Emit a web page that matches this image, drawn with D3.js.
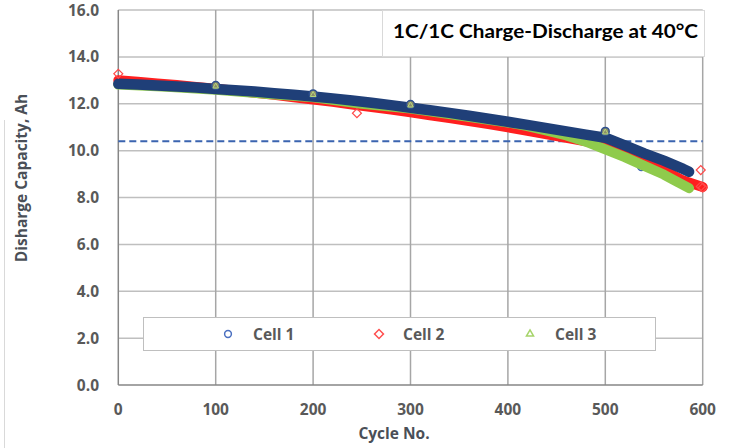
<!DOCTYPE html>
<html>
<head>
<meta charset="utf-8">
<script src="https://cdn.jsdelivr.net/npm/d3@7"></script>
<style>
  body { margin: 0; background: #fff; }
  text { font-family: "Open Sans", sans-serif; font-weight: bold; }
</style>
</head>
<body>
<svg id="chart"></svg>
<script>
// Cycle data (every 20 cycles)
const cell1Cycles = [0, 20, 40, 60, 80, 100, 120, 140, 160, 180, 200, 220, 240, 260, 280, 300, 320, 340, 360, 380, 400, 420, 440, 460, 480, 500, 520, 540, 560, 580, 586];
const cell1Values = [12.85, 12.82, 12.78, 12.74, 12.69, 12.63, 12.58, 12.52, 12.45, 12.38, 12.31, 12.23, 12.14, 12.04, 11.94, 11.83, 11.72, 11.61, 11.49, 11.36, 11.23, 11.10, 10.96, 10.82, 10.68, 10.55, 10.22, 9.88, 9.57, 9.22, 9.10];

const cell2Cycles = [0, 20, 40, 60, 80, 100, 120, 140, 160, 180, 200, 220, 240, 260, 280, 300, 320, 340, 360, 380, 400, 420, 440, 460, 480, 500, 520, 540, 560, 580, 600];
const cell2Values = [13.0, 12.94, 12.87, 12.8, 12.72, 12.64, 12.56, 12.47, 12.38, 12.28, 12.18, 12.08, 11.97, 11.86, 11.75, 11.63, 11.51, 11.39, 11.26, 11.13, 10.99, 10.85, 10.70, 10.55, 10.40, 10.22, 9.88, 9.55, 9.17, 8.72, 8.45];

const cell3Cycles = [0, 50, 100, 150, 200, 250, 300, 350, 400, 420, 440, 460, 480, 500, 520, 540, 560, 570, 586];
const cell3Values = [12.82, 12.72, 12.60, 12.43, 12.28, 12.0, 11.80, 11.50, 11.20, 11.05, 10.85, 10.65, 10.38, 10.05, 9.72, 9.35, 8.98, 8.75, 8.40];

// Individual markers that stand out from the bands
const cell1MarkCycles = [100, 200, 300, 500, 537];
const cell1MarkValues = [12.78, 12.42, 11.97, 10.82, 9.3];
const cell2MarkCycles = [0, 245, 598, 598, 600];
const cell2MarkValues = [13.28, 11.6, 9.17, 8.47, 8.42];
const cell3MarkCycles = [100, 200, 300, 500];
const cell3MarkValues = [12.74, 12.38, 11.93, 10.78];

const xTicks = [0, 100, 200, 300, 400, 500, 600];
const yTicks = [0, 2, 4, 6, 8, 10, 12, 14, 16];
const limitValue = 10.4;
const seriesNames = ["Cell 1", "Cell 2", "Cell 3"];
const titleText = "1C/1C Charge-Discharge at 40°C";

const W = 735, H = 448;
const plot = { left: 118.3, right: 702.7, top: 10, bottom: 385 };

const svg = d3.select("#chart").attr("width", W).attr("height", H);

const x = d3.scaleLinear().domain([0, 600]).range([plot.left, plot.right]);
const y = d3.scaleLinear().domain([0, 16]).range([plot.bottom, plot.top]);

const blue = "#1f3f78", red = "#ff1f1f", green = "#8fcb4c";

// faint outer border on the left
svg.append("line").attr("x1", 4.5).attr("x2", 4.5).attr("y1", 120).attr("y2", H)
  .attr("stroke", "#d9d9d9");

// gridlines
svg.append("g").selectAll("line").data(yTicks.filter(d => d > 0))
  .join("line")
  .attr("x1", plot.left).attr("x2", plot.right)
  .attr("y1", d => y(d)).attr("y2", d => y(d))
  .attr("stroke", "#bfbfbf").attr("stroke-width", 1.5);
svg.append("g").selectAll("line").data(xTicks.filter(d => d > 0))
  .join("line")
  .attr("x1", d => x(d)).attr("x2", d => x(d))
  .attr("y1", plot.top).attr("y2", plot.bottom)
  .attr("stroke", "#a6a6a6").attr("stroke-width", 1.5);

// axes lines (left and bottom)
svg.append("line").attr("x1", plot.left).attr("x2", plot.left).attr("y1", plot.top).attr("y2", plot.bottom)
  .attr("stroke", "#868686").attr("stroke-width", 1.5);
svg.append("line").attr("x1", plot.left).attr("x2", plot.right).attr("y1", plot.bottom).attr("y2", plot.bottom)
  .attr("stroke", "#868686").attr("stroke-width", 1.5);

// tick labels
svg.append("g").selectAll("text").data(yTicks)
  .join("text")
  .attr("x", 99).attr("y", d => y(d) + 5.5)
  .attr("text-anchor", "end").attr("font-size", 15.5).attr("fill", "#595959")
  .text(d => d.toFixed(1));
svg.append("g").selectAll("text").data(xTicks)
  .join("text")
  .attr("x", d => x(d)).attr("y", 415)
  .attr("text-anchor", "middle").attr("font-size", 15.5).attr("fill", "#595959")
  .text(d => d);

// axis titles
svg.append("text")
  .attr("transform", "translate(27,178) rotate(-90)")
  .attr("text-anchor", "middle").attr("font-size", 15.5).attr("fill", "#4a4f57")
  .text("Disharge Capacity, Ah");
svg.append("text")
  .attr("x", 394).attr("y", 439)
  .attr("text-anchor", "middle").attr("font-size", 15.5).attr("fill", "#4a4f57")
  .text("Cycle No.");

// limit line
svg.append("line")
  .attr("x1", x(0)).attr("x2", x(600))
  .attr("y1", y(limitValue)).attr("y2", y(limitValue))
  .attr("stroke", "#3b64b0").attr("stroke-width", 2).attr("stroke-dasharray", "7,4");

// dense marker bands
const line = d3.line().x(d => x(d[0])).y(d => y(d[1]));
function band(cycles, values, color, w) {
  svg.append("path")
    .datum(d3.zip(cycles, values))
    .attr("d", line)
    .attr("fill", "none").attr("stroke", color).attr("stroke-width", w)
    .attr("stroke-linejoin", "round").attr("stroke-linecap", "round");
}

// a Cell 1 marker hidden under the others
svg.append("circle").attr("cx", x(cell1MarkCycles[4])).attr("cy", y(cell1MarkValues[4]))
  .attr("r", 3.5).attr("fill", "none").attr("stroke", "#3b64b0").attr("stroke-width", 1.5);

band(cell2Cycles, cell2Values, red, 10);
band(cell3Cycles, cell3Values, green, 10);
band(cell1Cycles, cell1Values, blue, 10.5);

const sym = (type, size) => d3.symbol().type(type).size(size)();

// standout markers
svg.append("g").selectAll("path").data(d3.zip(cell1MarkCycles, cell1MarkValues).slice(0, 4))
  .join("path")
  .attr("transform", d => `translate(${x(d[0])},${y(d[1])})`)
  .attr("d", sym(d3.symbolCircle, 48))
  .attr("fill", "#8c8c6a").attr("stroke", "#2d4f8f").attr("stroke-width", 1.5);
svg.append("g").selectAll("path").data(d3.zip(cell3MarkCycles, cell3MarkValues))
  .join("path")
  .attr("transform", d => `translate(${x(d[0])},${y(d[1])})`)
  .attr("d", sym(d3.symbolTriangle, 14))
  .attr("fill", "none").attr("stroke", "#b7d97a").attr("stroke-width", 1);
svg.append("g").selectAll("path").data(d3.zip(cell2MarkCycles, cell2MarkValues))
  .join("path")
  .attr("transform", d => `translate(${x(d[0])},${y(d[1])}) rotate(45)`)
  .attr("d", sym(d3.symbolSquare, 40))
  .attr("fill", "none").attr("stroke", "#ff4a4a").attr("stroke-width", 1.2);

// legend
const legend = svg.append("g");
legend.append("rect").attr("x", 143.5).attr("y", 317.5).attr("width", 512).attr("height", 33)
  .attr("fill", "#fff").attr("stroke", "#bfbfbf").attr("stroke-width", 1);
const legMarkX = [228, 379, 530];
const legTextX = [253, 403, 555];
const legSymbols = [
  { type: d3.symbolCircle, size: 36, color: "#4a6fc0", rot: 0 },
  { type: d3.symbolSquare, size: 40, color: "#ff5050", rot: 45 },
  { type: d3.symbolTriangle, size: 22, color: "#a6d46a", rot: 0 }
];
seriesNames.forEach((name, i) => {
  legend.append("path")
    .attr("transform", `translate(${legMarkX[i]},334) rotate(${legSymbols[i].rot})`)
    .attr("d", sym(legSymbols[i].type, legSymbols[i].size))
    .attr("fill", "none").attr("stroke", legSymbols[i].color).attr("stroke-width", 1.5);
  legend.append("text")
    .attr("x", legTextX[i]).attr("y", 339.5)
    .attr("font-size", 15.5).attr("fill", "#595959")
    .text(name);
});

// title box
svg.append("rect").attr("x", 382.5).attr("y", 10.5).attr("width", 322).attr("height", 46)
  .attr("fill", "#fff").attr("stroke", "#d9d9d9");
svg.append("text")
  .attr("x", 393).attr("y", 38)
  .style("font-family", "Lato, sans-serif")
  .attr("font-size", 19.5).attr("fill", "#000")
  .attr("textLength", 305).attr("lengthAdjust", "spacingAndGlyphs")
  .text(titleText);
</script>
</body>
</html>
